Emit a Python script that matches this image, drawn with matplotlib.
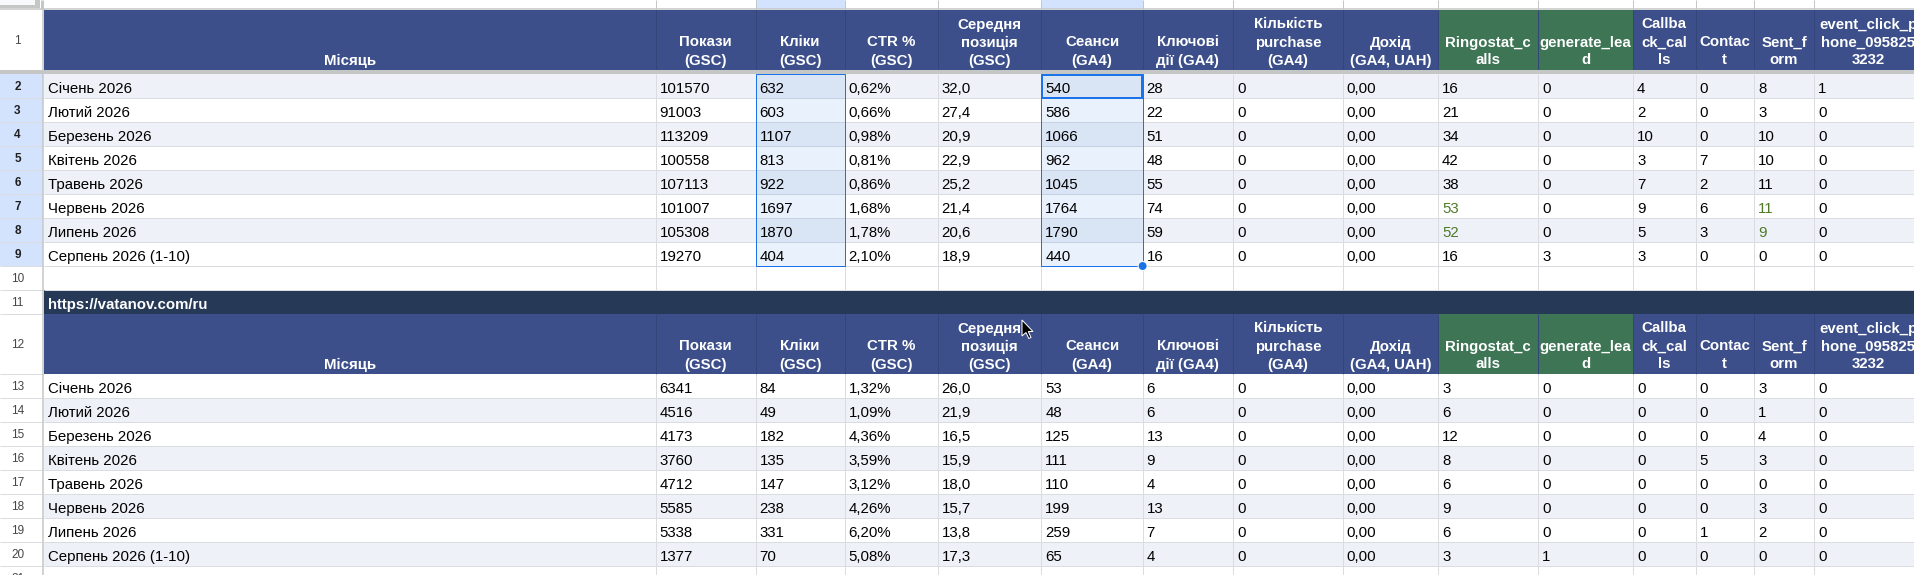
import matplotlib
matplotlib.use('Agg')
import matplotlib.pyplot as plt
from matplotlib.patches import Rectangle, Circle, Polygon

plt.rcParams['font.family'] = ['Liberation Sans', 'DejaVu Sans']

# ---------------- data ----------------
months = ["Січень 2026", "Лютий 2026", "Березень 2026", "Квітень 2026",
          "Травень 2026", "Червень 2026", "Липень 2026", "Серпень 2026 (1-10)"]
headers = ["Місяць", "Покази\n(GSC)", "Кліки\n(GSC)", "CTR %\n(GSC)",
           "Середня\nпозиція\n(GSC)", "Сеанси\n(GA4)", "Ключові\nдії (GA4)",
           "Кількість\npurchase\n(GA4)", "Дохід\n(GA4, UAH)", "Ringostat_c\nalls",
           "generate_lea\nd", "Callba\nck_cal\nls", "Contac\nt", "Sent_f\norm",
           "event_click_p\nhone_095825\n3232"]
site2_label = "https://vatanov.com/ru"

impr1 = [101570, 91003, 113209, 100558, 107113, 101007, 105308, 19270]
clicks1 = [632, 603, 1107, 813, 922, 1697, 1870, 404]
ctr1 = [0.62, 0.66, 0.98, 0.81, 0.86, 1.68, 1.78, 2.10]
pos1 = [32.0, 27.4, 20.9, 22.9, 25.2, 21.4, 20.6, 18.9]
sess1 = [540, 586, 1066, 962, 1045, 1764, 1790, 440]
key1 = [28, 22, 51, 48, 55, 74, 59, 16]
purch1 = [0, 0, 0, 0, 0, 0, 0, 0]
rev1 = [0.00, 0.00, 0.00, 0.00, 0.00, 0.00, 0.00, 0.00]
ring1 = [16, 21, 34, 42, 38, 53, 52, 16]
gen1 = [0, 0, 0, 0, 0, 0, 0, 3]
cb1 = [4, 2, 10, 3, 7, 9, 5, 3]
contact1 = [0, 0, 0, 7, 2, 6, 3, 0]
sent1 = [8, 3, 10, 10, 11, 11, 9, 0]
ev1 = [1, 0, 0, 0, 0, 0, 0, 0]

impr2 = [6341, 4516, 4173, 3760, 4712, 5585, 5338, 1377]
clicks2 = [84, 49, 182, 135, 147, 238, 331, 70]
ctr2 = [1.32, 1.09, 4.36, 3.59, 3.12, 4.26, 6.20, 5.08]
pos2 = [26.0, 21.9, 16.5, 15.9, 18.0, 15.7, 13.8, 17.3]
sess2 = [53, 48, 125, 111, 110, 199, 259, 65]
key2 = [6, 6, 13, 9, 4, 13, 7, 4]
purch2 = [0, 0, 0, 0, 0, 0, 0, 0]
rev2 = [0.00, 0.00, 0.00, 0.00, 0.00, 0.00, 0.00, 0.00]
ring2 = [3, 6, 12, 8, 6, 9, 6, 3]
gen2 = [0, 0, 0, 0, 0, 0, 0, 1]
cb2 = [0, 0, 0, 0, 0, 0, 0, 0]
contact2 = [0, 0, 0, 5, 0, 0, 1, 0]
sent2 = [3, 1, 4, 3, 0, 3, 2, 0]
ev2 = [0, 0, 0, 0, 0, 0, 0, 0]

# cells with green (conditional-format) text: (column index, row index) in table 1
green_cells1 = [(9, 5), (9, 6), (13, 5), (13, 6)]

# ---------------- formatting ----------------
def f_int(v):
    return str(int(v))

def f_pct(v):
    return f"{v:.2f}%".replace('.', ',')

def f_1(v):
    return f"{v:.1f}".replace('.', ',')

def f_2(v):
    return f"{v:.2f}".replace('.', ',')

fmts = [None, f_int, f_int, f_pct, f_1, f_int, f_int, f_int, f_2,
        f_int, f_int, f_int, f_int, f_int, f_int]

table1 = [months, impr1, clicks1, ctr1, pos1, sess1, key1, purch1, rev1,
          ring1, gen1, cb1, contact1, sent1, ev1]
table2 = [months, impr2, clicks2, ctr2, pos2, sess2, key2, purch2, rev2,
          ring2, gen2, cb2, contact2, sent2, ev2]

# ---------------- layout ----------------
W, H = 1914, 575
fig = plt.figure(figsize=(W / 100, H / 100), dpi=100)
ax = fig.add_axes([0, 0, 1, 1])
ax.set_xlim(0, W)
ax.set_ylim(H, 0)
ax.axis('off')

col_x = [44, 655.5, 755.6, 844.7, 937.5, 1041.3, 1142.6, 1233, 1342.8,
         1438, 1538, 1633, 1695.6, 1754, 1814, 1923]
RH = 24
HDR_BLUE = '#3c4f8a'
HDR_GREEN = '#3d7555'
BAND = '#263957'
STRIPE = '#eef1f7'
GRID = '#dadce0'
SEL_BLUE = '#1a73e8'
HDR_SEL = '#d3e3fd'
FS = 10.8
px = 0.72  # one pixel in points

def rect(x0, y0, x1, y1, color, z=1, alpha=1.0):
    ax.add_patch(Rectangle((x0, y0), x1 - x0, y1 - y0, facecolor=color,
                           edgecolor='none', zorder=z, alpha=alpha, lw=0))

def hline(y, x0, x1, color=GRID, lw=1, z=2):
    ax.plot([x0, x1], [y, y], color=color, lw=lw * px, zorder=z,
            solid_capstyle='butt')

def vline(x, y0, y1, color=GRID, lw=1, z=2):
    ax.plot([x, x], [y0, y1], color=color, lw=lw * px, zorder=z,
            solid_capstyle='butt')

# whole background
rect(0, 0, W, H, 'white', z=0)

# ---- top column-letter strip ----
rect(0, 0, 40, 8, '#c4c7c5', z=1)
rect(0, 0, 35, 5, '#f8f9fa', z=1.1)
rect(col_x[2], 0, col_x[3], 9, HDR_SEL, z=1)
rect(col_x[5], 0, col_x[6], 9, HDR_SEL, z=1)
for x in col_x[1:]:
    vline(x, 0, 9, color='#c4c7c5')
hline(9.3, 0, W, color='#c4c7c5', lw=1.5)

def draw_header(top, bottom):
    for i in range(len(headers)):
        x0, x1 = col_x[i], col_x[i + 1]
        col = HDR_GREEN if i in (9, 10) else HDR_BLUE
        rect(x0, top, x1, bottom, col, z=1)
        if i > 0:
            vline(x0, top, bottom, color='#34457a', z=2)
        lines = headers[i].split('\n')
        n = len(lines)
        for j, line in enumerate(lines):
            yb = bottom - 5.5 - (n - 1 - j) * 18
            ax.text((x0 + x1) / 2, yb, line, ha='center', va='baseline',
                    fontsize=FS, fontweight='bold', color='white', zorder=5)

def draw_rows(table, top, stripe_even, green_cells=()):
    for r in range(len(months)):
        y0 = top + r * RH
        y1 = y0 + RH
        light = (r % 2 == 0) == stripe_even
        rect(col_x[0], y0, col_x[-1], y1, STRIPE if light else 'white', z=1)
        hline(y1, col_x[0], W)
        for c in range(len(table)):
            v = table[c][r]
            s = v if fmts[c] is None else fmts[c](v)
            color = '#4e7a27' if (c, r) in green_cells else 'black'
            ax.text(col_x[c] + 4, y1 - 5, s, ha='left', va='baseline',
                    fontsize=FS, color=color, zorder=5)
    for x in col_x[1:]:
        vline(x, top, top + RH * len(months))

# ---- table 1 ----
draw_header(10, 70)
rect(0, 70, W, 74, '#c4c7c5', z=3)
T1 = 74
draw_rows(table1, T1, True, green_cells1)

# row 10 (empty)
r10 = T1 + 8 * RH
hline(r10 + RH, col_x[0], W)
for x in col_x[1:]:
    vline(x, r10, r10 + RH)

# ---- band row 11 ----
b0 = r10 + RH
rect(col_x[0], b0, W, b0 + RH, BAND, z=1)
ax.text(col_x[0] + 4, b0 + RH - 5, site2_label, ha='left', va='baseline',
        fontsize=FS, fontweight='bold', color='white', zorder=5)

# ---- table 2 ----
h2 = b0 + RH
draw_header(h2, h2 + 60)
T2 = h2 + 60
draw_rows(table2, T2, False)
r21 = T2 + 8 * RH
for x in col_x[1:]:
    vline(x, r21, H)

# ---- selection overlays (Кліки, Сеанси rows 2-9) ----
sel_y0, sel_y1 = T1, T1 + 8 * RH
for c in (2, 5):
    rect(col_x[c], sel_y0, col_x[c + 1], sel_y1, '#0e65eb', z=3, alpha=0.09)
    ax.add_patch(Rectangle((col_x[c], sel_y0), col_x[c + 1] - col_x[c],
                           sel_y1 - sel_y0, facecolor='none',
                           edgecolor=SEL_BLUE, lw=1 * px, zorder=6))
# active cell
ax.add_patch(Rectangle((col_x[5] + 0.5, T1 + 0.5), col_x[6] - col_x[5] - 1,
                       RH - 1, facecolor='none', edgecolor=SEL_BLUE,
                       lw=2 * px, zorder=6))
ax.add_patch(Circle((col_x[6], sel_y1), 4.5, facecolor=SEL_BLUE,
                    edgecolor='white', lw=1 * px, zorder=7))

# ---- row number column ----
rows_spec = [(1, 10, 70)]
for r in range(8):
    rows_spec.append((2 + r, T1 + r * RH, T1 + (r + 1) * RH))
rows_spec.append((10, r10, r10 + RH))
rows_spec.append((11, b0, b0 + RH))
rows_spec.append((12, h2, h2 + 60))
for r in range(8):
    rows_spec.append((13 + r, T2 + r * RH, T2 + (r + 1) * RH))
rows_spec.append((21, r21, r21 + RH))
for num, y0, y1 in rows_spec:
    sel = 2 <= num <= 9
    rect(0, y0, 43, y1, HDR_SEL if sel else 'white', z=1)
    hline(y1, 0, 43, color='#dadce0')
    ax.text(17.5, (y0 + y1) / 2 + 0.5, str(num), ha='center', va='center',
            fontsize=8.5, color='#1f1f1f' if sel else '#444746',
            fontweight='bold' if sel else 'normal', zorder=5)
vline(43, 9, H, color='#c4c7c5', lw=1.5, z=4)
vline(41.5, 0, 9, color='#c4c7c5', lw=3, z=4)
rect(0, 70, W, 74, '#c4c7c5', z=4)

# ---- mouse cursor ----
cx, cy = 1022, 320
pts = [(0, 0), (0, 16), (4, 12.5), (6.8, 18.5), (9, 17.5), (6.3, 11.5), (11, 11.5)]
ax.add_patch(Polygon([(cx + a, cy + b) for a, b in pts], closed=True,
                     facecolor='black', edgecolor='white', lw=1 * px, zorder=8))

fig.savefig('out.png', dpi=100)
